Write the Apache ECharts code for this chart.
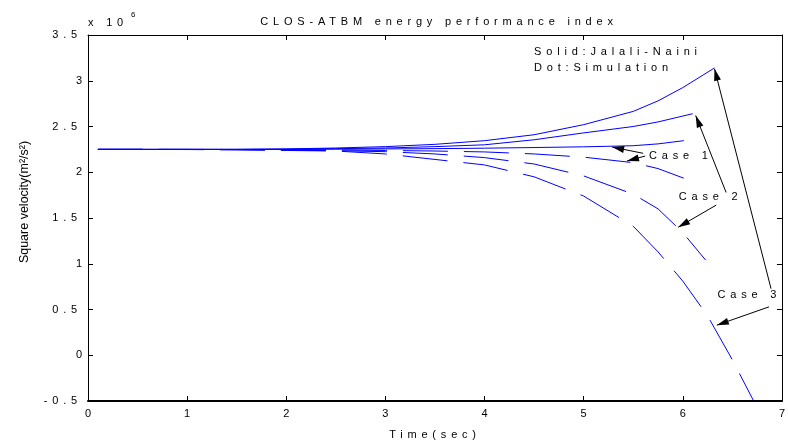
<!DOCTYPE html>
<html>
<head>
<meta charset="utf-8">
<script src="https://cdn.jsdelivr.net/npm/echarts@6/dist/echarts.min.js"></script>
<style>
html,body{margin:0;padding:0;background:#fff;}
#chart{width:788px;height:445px;}
</style>
</head>
<body>
<div id="chart"></div>
<script>
// ---------- data (values in units of 10^6 m^2/s^2) ----------
const titleText = 'CLOS-ATBM energy performance index';
const xAxisName = 'Time(sec)';
const yAxisName = 'Square velocity(m\u00B2/s\u00B2)';
const yTicks = [-0.5, 0, 0.5, 1, 1.5, 2, 2.5, 3, 3.5];
const xTicks = [0, 1, 2, 3, 4, 5, 6, 7];

const timeBase = [0.1, 0.5, 1.0, 1.5, 2.0, 2.5, 3.0, 3.5, 4.0, 4.5, 5.0, 5.5];

// Solid: Jalali-Naini
const case1SolidTime = timeBase.concat([5.75, 6.01]);
const case1SolidVal  = [2.25, 2.25, 2.25, 2.25, 2.25, 2.252, 2.255, 2.258, 2.263, 2.27, 2.278, 2.29, 2.31, 2.345];
const case2SolidTime = timeBase.concat([5.75, 6.10]);
const case2SolidVal  = [2.25, 2.25, 2.25, 2.25, 2.252, 2.258, 2.265, 2.28, 2.30, 2.355, 2.43, 2.50, 2.55, 2.64];
const case3SolidTime = timeBase.concat([5.75, 6.0, 6.32]);
const case3SolidVal  = [2.25, 2.25, 2.25, 2.25, 2.255, 2.265, 2.28, 2.305, 2.345, 2.41, 2.52, 2.665, 2.78, 2.925, 3.14];

// Dashed: Simulation
const case1SimTime = timeBase.concat([5.75, 6.01]);
const case1SimVal  = [2.25, 2.25, 2.25, 2.248, 2.246, 2.243, 2.238, 2.232, 2.222, 2.20, 2.165, 2.105, 2.04, 1.935];
const case2SimTime = timeBase.concat([5.75, 6.0, 6.23]);
const case2SimVal  = [2.25, 2.25, 2.249, 2.246, 2.242, 2.235, 2.225, 2.20, 2.16, 2.09, 1.96, 1.76, 1.60, 1.34, 1.04];
const case3SimTime = timeBase.concat([5.75, 6.0, 6.25, 6.5, 6.71]);
const case3SimVal  = [2.25, 2.25, 2.248, 2.245, 2.238, 2.232, 2.20, 2.14, 2.08, 1.95, 1.74, 1.41, 1.13, 0.81, 0.43, -0.05, -0.49];

// annotation arrows: [tailX, tailY, tipX, tipY] in data units
const arrowList = [
  [5.60, 2.207, 5.287, 2.275],
  [5.62, 2.177, 5.437, 2.123],
  [6.437, 1.779, 6.13, 2.62],
  [6.337, 1.641, 5.953, 1.399],
  [6.89, 0.728, 6.32, 3.13],
  [6.87, 0.529, 6.343, 0.329]
];
// annotation texts: [x, y, text] in data units (left anchored)
const noteList = [
  [4.50, 3.315, 'Solid:Jalali-Naini'],
  [4.50, 3.141, 'Dot:Simulation'],
  [5.66, 2.174, 'Case 1'],
  [5.96, 1.728, 'Case 2'],
  [6.35, 0.663, 'Case 3']
];

// ---------- letter spacing like the original export ----------
(function () {
  const P = CanvasRenderingContext2D.prototype;
  const orig = P.fillText;
  P.fillText = function (text, x, y, w) {
    const s = String(text);
    if ('letterSpacing' in this) {
      this.letterSpacing = (s.length <= 1 || s === yAxisName) ? '0px' : '4.8px';
    }
    return w === undefined ? orig.call(this, text, x, y) : orig.call(this, text, x, y, w);
  };
})();

const FONT = 'Liberation Sans, Arial, sans-serif';
const BLUE = '#0000ff';

function pairs(t, v) { return t.map((x, i) => [x, v[i]]); }

function lineSeries(name, t, v, dashed, extra) {
  return Object.assign({
    name: name,
    type: 'line',
    xAxisIndex: 0,
    yAxisIndex: 0,
    data: pairs(t, v),
    showSymbol: false,
    symbol: 'none',
    smooth: false,
    silent: true,
    lineStyle: { color: BLUE, width: 1, type: dashed ? [45, 16] : 'solid', dashOffset: 0 },
    itemStyle: { color: BLUE },
    emphasis: { disabled: true },
    z: 2
  }, extra || {});
}

const chart = echarts.init(document.getElementById('chart'), null, { renderer: 'canvas', devicePixelRatio: 1 });

const axisCommonX = {
  type: 'value', min: 0, max: 7, interval: 1,
  axisLine: { show: true, onZero: false, lineStyle: { color: '#000', width: 1 } },
  axisTick: { show: true, inside: true, length: 5, lineStyle: { color: '#000' } },
  splitLine: { show: false }
};
const axisCommonY = {
  type: 'value', min: -0.5, max: 3.5, interval: 0.5,
  axisLine: { show: true, onZero: false, lineStyle: { color: '#000', width: 1 } },
  axisTick: { show: true, inside: true, length: 5, lineStyle: { color: '#000' } },
  splitLine: { show: false }
};

const option = {
  animation: false,
  backgroundColor: '#fff',
  textStyle: { fontFamily: FONT },
  title: {
    text: titleText,
    left: 434,
    textAlign: 'center',
    top: 11,
    textStyle: { fontFamily: FONT, fontSize: 11, fontWeight: 'normal', color: '#000' }
  },
  grid: { left: 88, right: 0, top: 35, bottom: 42, containLabel: false },
  xAxis: [
    Object.assign({}, axisCommonX, {
      position: 'bottom',
      axisLine: { show: true, onZero: false, lineStyle: { color: '#000', width: 2 } },
      name: xAxisName,
      nameLocation: 'middle',
      nameGap: 28,
      nameTextStyle: { fontFamily: FONT, fontSize: 11, color: '#000' },
      axisLabel: { show: true, margin: 7, fontFamily: FONT, fontSize: 11, color: '#000',
        customValues: xTicks }
    }),
    Object.assign({}, axisCommonX, {
      position: 'top',
      axisLabel: { show: false }
    })
  ],
  yAxis: [
    Object.assign({}, axisCommonY, {
      position: 'left',
      axisLabel: { show: true, margin: 6, fontFamily: FONT, fontSize: 11, color: '#000',
        customValues: yTicks }
    }),
    Object.assign({}, axisCommonY, {
      position: 'right',
      axisLabel: { show: false }
    })
  ],
  graphic: [
    { type: 'text', x: 25, y: 202, rotation: Math.PI / 2,
      style: { text: yAxisName, align: 'center', verticalAlign: 'middle', font: '12.5px ' + FONT, fill: '#000' } },
    { type: 'text', x: 88, y: 23,
      style: { text: 'x 10', align: 'left', verticalAlign: 'middle', font: '11px ' + FONT, fill: '#000' } },
    { type: 'text', x: 131, y: 15,
      style: { text: '6', align: 'left', verticalAlign: 'middle', font: '8px ' + FONT, fill: '#000' } }
  ],
  series: [
    lineSeries('Case 1 Jalali-Naini', case1SolidTime, case1SolidVal, false, {
      markLine: {
        silent: true,
        animation: false,
        symbol: ['none', 'triangle'],
        label: { show: false },
        emphasis: { disabled: true },
        lineStyle: { color: '#000', width: 1, type: 'solid' },
        itemStyle: { color: '#000' },
        data: arrowList.map(a => [
          { coord: [a[0], a[1]], symbol: 'none' },
          { coord: [a[2], a[3]], symbol: 'triangle', symbolSize: [7, 12], symbolOffset: [0, '50%'] }
        ])
      },
      markPoint: {
        silent: true,
        animation: false,
        symbol: 'circle',
        symbolSize: 0,
        itemStyle: { color: 'rgba(0,0,0,0)' },
        label: { show: true, position: 'right', distance: 0, color: '#000', fontFamily: FONT, fontSize: 11,
          formatter: p => p.name },
        data: noteList.map(n => ({ coord: [n[0], n[1]], name: n[2], value: 0 }))
      }
    }),
    lineSeries('Case 2 Jalali-Naini', case2SolidTime, case2SolidVal, false),
    lineSeries('Case 3 Jalali-Naini', case3SolidTime, case3SolidVal, false),
    lineSeries('Case 1 Simulation', case1SimTime, case1SimVal, true),
    lineSeries('Case 2 Simulation', case2SimTime, case2SimVal, true),
    lineSeries('Case 3 Simulation', case3SimTime, case3SimVal, true)
  ]
};

chart.setOption(option);
</script>
</body>
</html>
